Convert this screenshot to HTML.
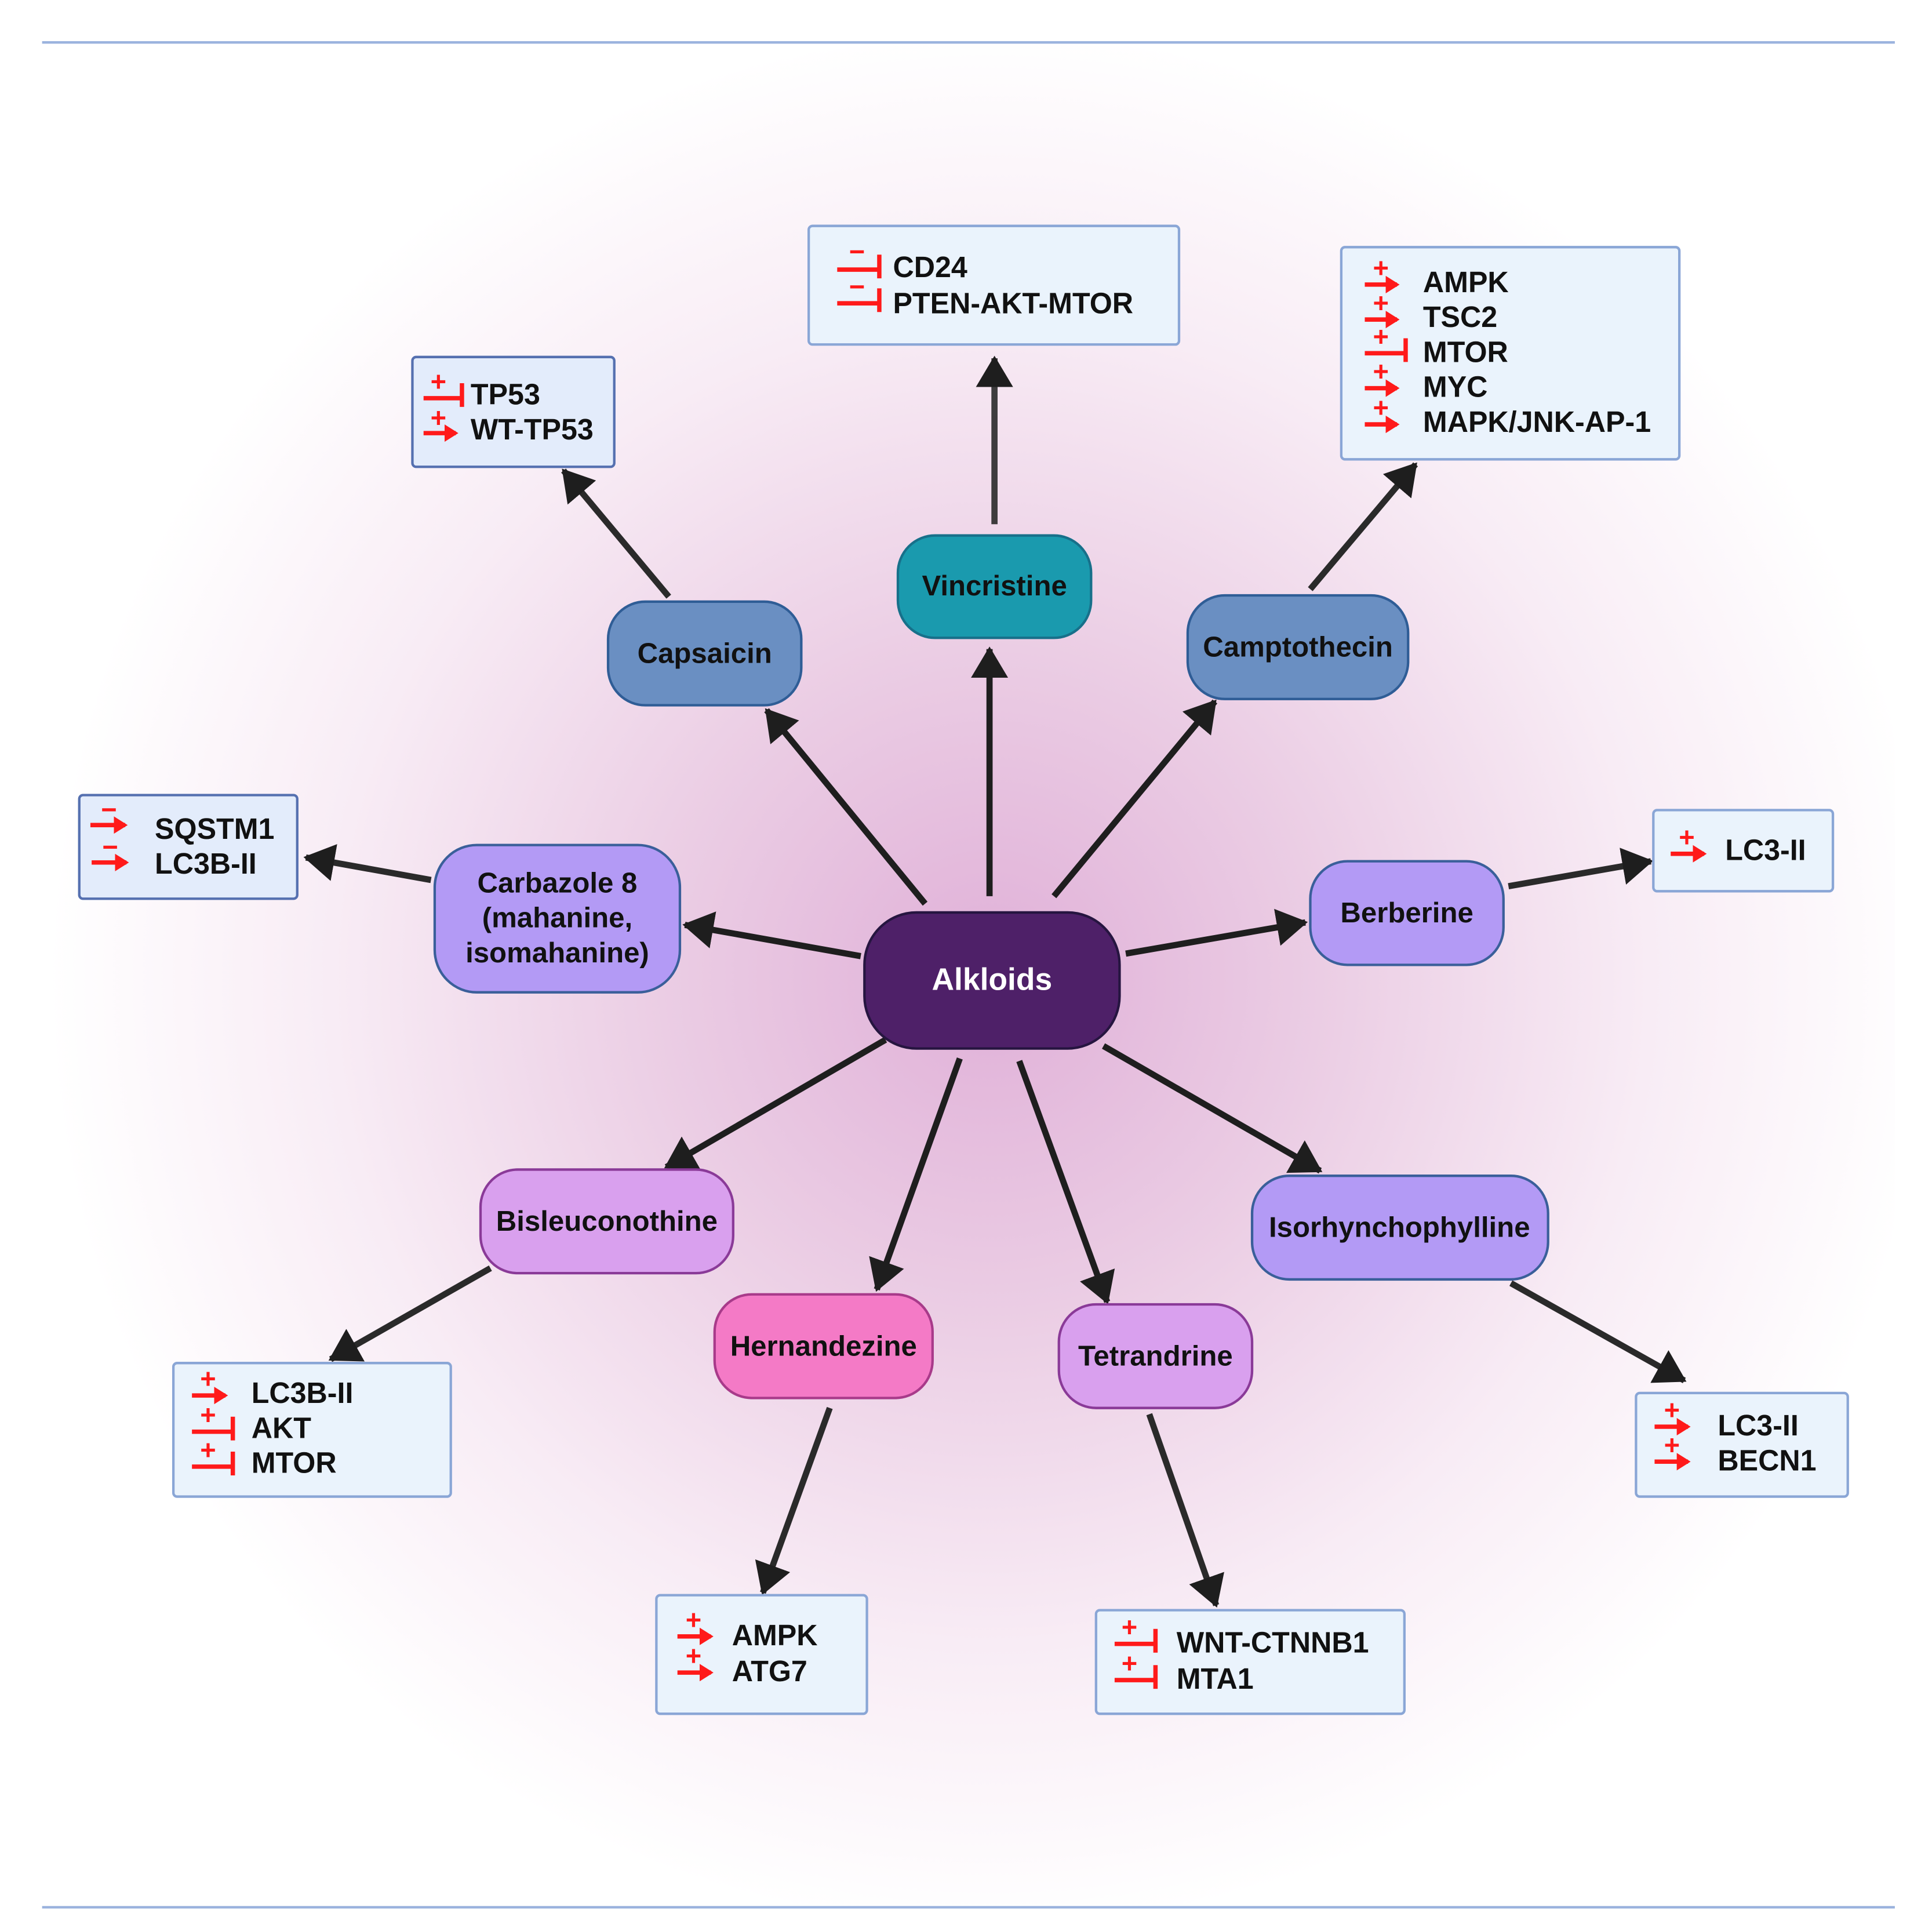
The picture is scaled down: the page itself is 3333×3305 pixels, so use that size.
<!DOCTYPE html>
<html><head><meta charset="utf-8"><style>
html,body{margin:0;padding:0;background:#fff;}
svg{display:block;}
text{font-family:"Liberation Sans",sans-serif;font-weight:bold;}
</style></head><body>
<svg width="3333" height="3305" viewBox="0 0 1560 1535" preserveAspectRatio="none" xmlns="http://www.w3.org/2000/svg">
<defs>
<radialGradient id="bg" cx="800" cy="785" r="760" gradientUnits="userSpaceOnUse">
<stop offset="0" stop-color="#e0b0d8"/>
<stop offset="0.35" stop-color="#ebcde4"/>
<stop offset="0.7" stop-color="#f8ecf5"/>
<stop offset="1" stop-color="#ffffff"/>
</radialGradient>
<marker id="ah" markerWidth="6" markerHeight="6" refX="4.6" refY="3" orient="auto" markerUnits="strokeWidth">
<path d="M0,0 L5,3 L0,6 Z" fill="#1e1e1e"/>
</marker>
<marker id="rh" markerWidth="4" markerHeight="4" refX="2.6" refY="2" orient="auto" markerUnits="strokeWidth">
<path d="M0,0 L3.2,2 L0,4 Z" fill="#ff1a1a"/>
</marker>
</defs>
<rect width="1560" height="1535" fill="#fff"/>
<rect x="34" y="36" width="1496" height="1490" fill="url(#bg)"/>
<line x1="34" y1="34" x2="1530" y2="34" stroke="#9bb3de" stroke-width="2"/>
<line x1="34" y1="1528" x2="1530" y2="1528" stroke="#9bb3de" stroke-width="2"/>

<g stroke="#1e1e1e" stroke-width="5" fill="none" marker-end="url(#ah)">
<line x1="799" y1="718" x2="799" y2="520"/>
<line x1="747" y1="724" x2="619" y2="569"/>
<line x1="851" y1="718" x2="981" y2="562"/>
<line x1="695" y1="766" x2="553" y2="741"/>
<line x1="909" y1="764" x2="1054" y2="739"/>
<line x1="715" y1="833" x2="538" y2="935"/>
<line x1="775" y1="848" x2="708" y2="1033"/>
<line x1="823" y1="850" x2="894" y2="1043"/>
<line x1="891" y1="838" x2="1066" y2="938"/>
</g>
<g stroke="#2a2a2a" stroke-width="5" fill="none" marker-end="url(#ah)">
<line x1="803" y1="420" x2="803" y2="287" stroke-opacity="0.9"/>
<line x1="540" y1="478" x2="455" y2="377"/>
<line x1="1058" y1="472" x2="1143" y2="372"/>
<line x1="348" y1="705" x2="247" y2="687"/>
<line x1="1218" y1="710" x2="1333" y2="690"/>
<line x1="396" y1="1016" x2="267" y2="1089"/>
<line x1="670" y1="1128" x2="616" y2="1276"/>
<line x1="928" y1="1133" x2="982" y2="1286"/>
<line x1="1220" y1="1028" x2="1360" y2="1106"/>
</g>

<g stroke-width="2">
<rect x="725" y="429" width="156" height="82" rx="30" fill="#1a9aae" stroke="#17708a"/>
<rect x="491" y="482" width="156" height="83" rx="30" fill="#6a8fc2" stroke="#2f5d96"/>
<rect x="959" y="477" width="178" height="83" rx="30" fill="#6a8fc2" stroke="#2f5d96"/>
<rect x="351" y="677" width="198" height="118" rx="34" fill="#b39af5" stroke="#3a5f9a"/>
<rect x="698" y="731" width="206" height="109" rx="42" fill="#4e2068" stroke="#261540"/>
<rect x="1058" y="690" width="156" height="83" rx="30" fill="#b39af5" stroke="#3a5f9a"/>
<rect x="388" y="937" width="204" height="83" rx="30" fill="#d9a0ee" stroke="#8a3a98"/>
<rect x="577" y="1037" width="176" height="83" rx="30" fill="#f47ac6" stroke="#a83a8a"/>
<rect x="855" y="1045" width="156" height="83" rx="30" fill="#d9a0ee" stroke="#8a3a98"/>
<rect x="1011" y="942" width="239" height="83" rx="30" fill="#b39af5" stroke="#3a5f9a"/>
</g>
<g font-size="23" fill="#111" text-anchor="middle">
<text x="803" y="477">Vincristine</text>
<text x="569" y="531">Capsaicin</text>
<text x="1048" y="526">Camptothecin</text>
<text x="450" y="715">Carbazole 8</text>
<text x="450" y="743">(mahanine,</text>
<text x="450" y="771">isomahanine)</text>
<text x="801" y="793" fill="#fff" font-size="25">Alkloids</text>
<text x="1136" y="739">Berberine</text>
<text x="490" y="986">Bisleuconothine</text>
<text x="665" y="1086">Hernandezine</text>
<text x="933" y="1094">Tetrandrine</text>
<text x="1130" y="991">Isorhynchophylline</text>
</g>

<g fill="#eaf3fc" stroke="#8aa6d6" stroke-width="2">
<rect x="653" y="181" width="299" height="95" rx="3"/>
<rect x="333" y="286" width="163" height="88" rx="3" fill="#e3ecfb" stroke="#5570b0"/>
<rect x="1083" y="198" width="273" height="170" rx="3"/>
<rect x="64" y="637" width="176" height="83" rx="3" fill="#e3ecfb" stroke="#5570b0"/>
<rect x="1335" y="649" width="145" height="65" rx="3"/>
<rect x="140" y="1092" width="224" height="107" rx="3"/>
<rect x="530" y="1278" width="170" height="95" rx="3"/>
<rect x="885" y="1290" width="249" height="83" rx="3"/>
<rect x="1321" y="1116" width="171" height="83" rx="3"/>
</g>

<g stroke="#ff1a1a" stroke-width="3.5" fill="none">
<path d="M676,216 H710 M710,204 V223"/><path d="M676,243 H710 M710,231 V250"/>
<path d="M342,319 H373 M373,307 V326"/>
<line x1="342" y1="347" x2="368" y2="347" marker-end="url(#rh)"/>
<line x1="1102" y1="228" x2="1128" y2="228" marker-end="url(#rh)"/>
<line x1="1102" y1="256" x2="1128" y2="256" marker-end="url(#rh)"/>
<path d="M1102,283 H1135 M1135,271 V290"/>
<line x1="1102" y1="311" x2="1128" y2="311" marker-end="url(#rh)"/>
<line x1="1102" y1="340" x2="1128" y2="340" marker-end="url(#rh)"/>
<line x1="73" y1="661" x2="101" y2="661" marker-end="url(#rh)"/>
<line x1="74" y1="691" x2="102" y2="691" marker-end="url(#rh)"/>
<line x1="1349" y1="684" x2="1376" y2="684" marker-end="url(#rh)"/>
<line x1="155" y1="1118" x2="182" y2="1118" marker-end="url(#rh)"/>
<path d="M155,1147 H188 M188,1135 V1154"/>
<path d="M155,1175 H188 M188,1163 V1182"/>
<line x1="547" y1="1311" x2="574" y2="1311" marker-end="url(#rh)"/>
<line x1="547" y1="1340" x2="574" y2="1340" marker-end="url(#rh)"/>
<path d="M900,1317 H933 M933,1305 V1324"/>
<path d="M900,1346 H933 M933,1334 V1353"/>
<line x1="1336" y1="1143" x2="1363" y2="1143" marker-end="url(#rh)"/>
<line x1="1336" y1="1171" x2="1363" y2="1171" marker-end="url(#rh)"/>
</g>
<g fill="#ff1a1a" font-size="22" text-anchor="middle">
<text x="692" y="209">−</text><text x="692" y="237">−</text>
<text x="354" y="313">+</text><text x="354" y="342">+</text>
<text x="1115" y="222">+</text><text x="1115" y="250">+</text><text x="1115" y="277">+</text><text x="1115" y="305">+</text><text x="1115" y="334">+</text>
<text x="88" y="656">−</text><text x="89" y="686">−</text>
<text x="1362" y="678">+</text>
<text x="168" y="1112">+</text><text x="168" y="1141">+</text><text x="168" y="1169">+</text>
<text x="560" y="1305">+</text><text x="560" y="1334">+</text>
<text x="912" y="1311">+</text><text x="912" y="1340">+</text>
<text x="1350" y="1137">+</text><text x="1350" y="1165">+</text>
</g>
<g font-size="23.5" fill="#111">
<text x="721" y="222">CD24</text><text x="721" y="251">PTEN-AKT-MTOR</text>
<text x="380" y="324">TP53</text><text x="380" y="352">WT-TP53</text>
<text x="1149" y="234">AMPK</text><text x="1149" y="262">TSC2</text><text x="1149" y="290">MTOR</text><text x="1149" y="318">MYC</text><text x="1149" y="346">MAPK/JNK-AP-1</text>
<text x="125" y="672">SQSTM1</text><text x="125" y="700">LC3B-II</text>
<text x="1393" y="689">LC3-II</text>
<text x="203" y="1124">LC3B-II</text><text x="203" y="1152">AKT</text><text x="203" y="1180">MTOR</text>
<text x="591" y="1318">AMPK</text><text x="591" y="1347">ATG7</text>
<text x="950" y="1324">WNT-CTNNB1</text><text x="950" y="1353">MTA1</text>
<text x="1387" y="1150">LC3-II</text><text x="1387" y="1178">BECN1</text>
</g>
</svg>
</body></html>
